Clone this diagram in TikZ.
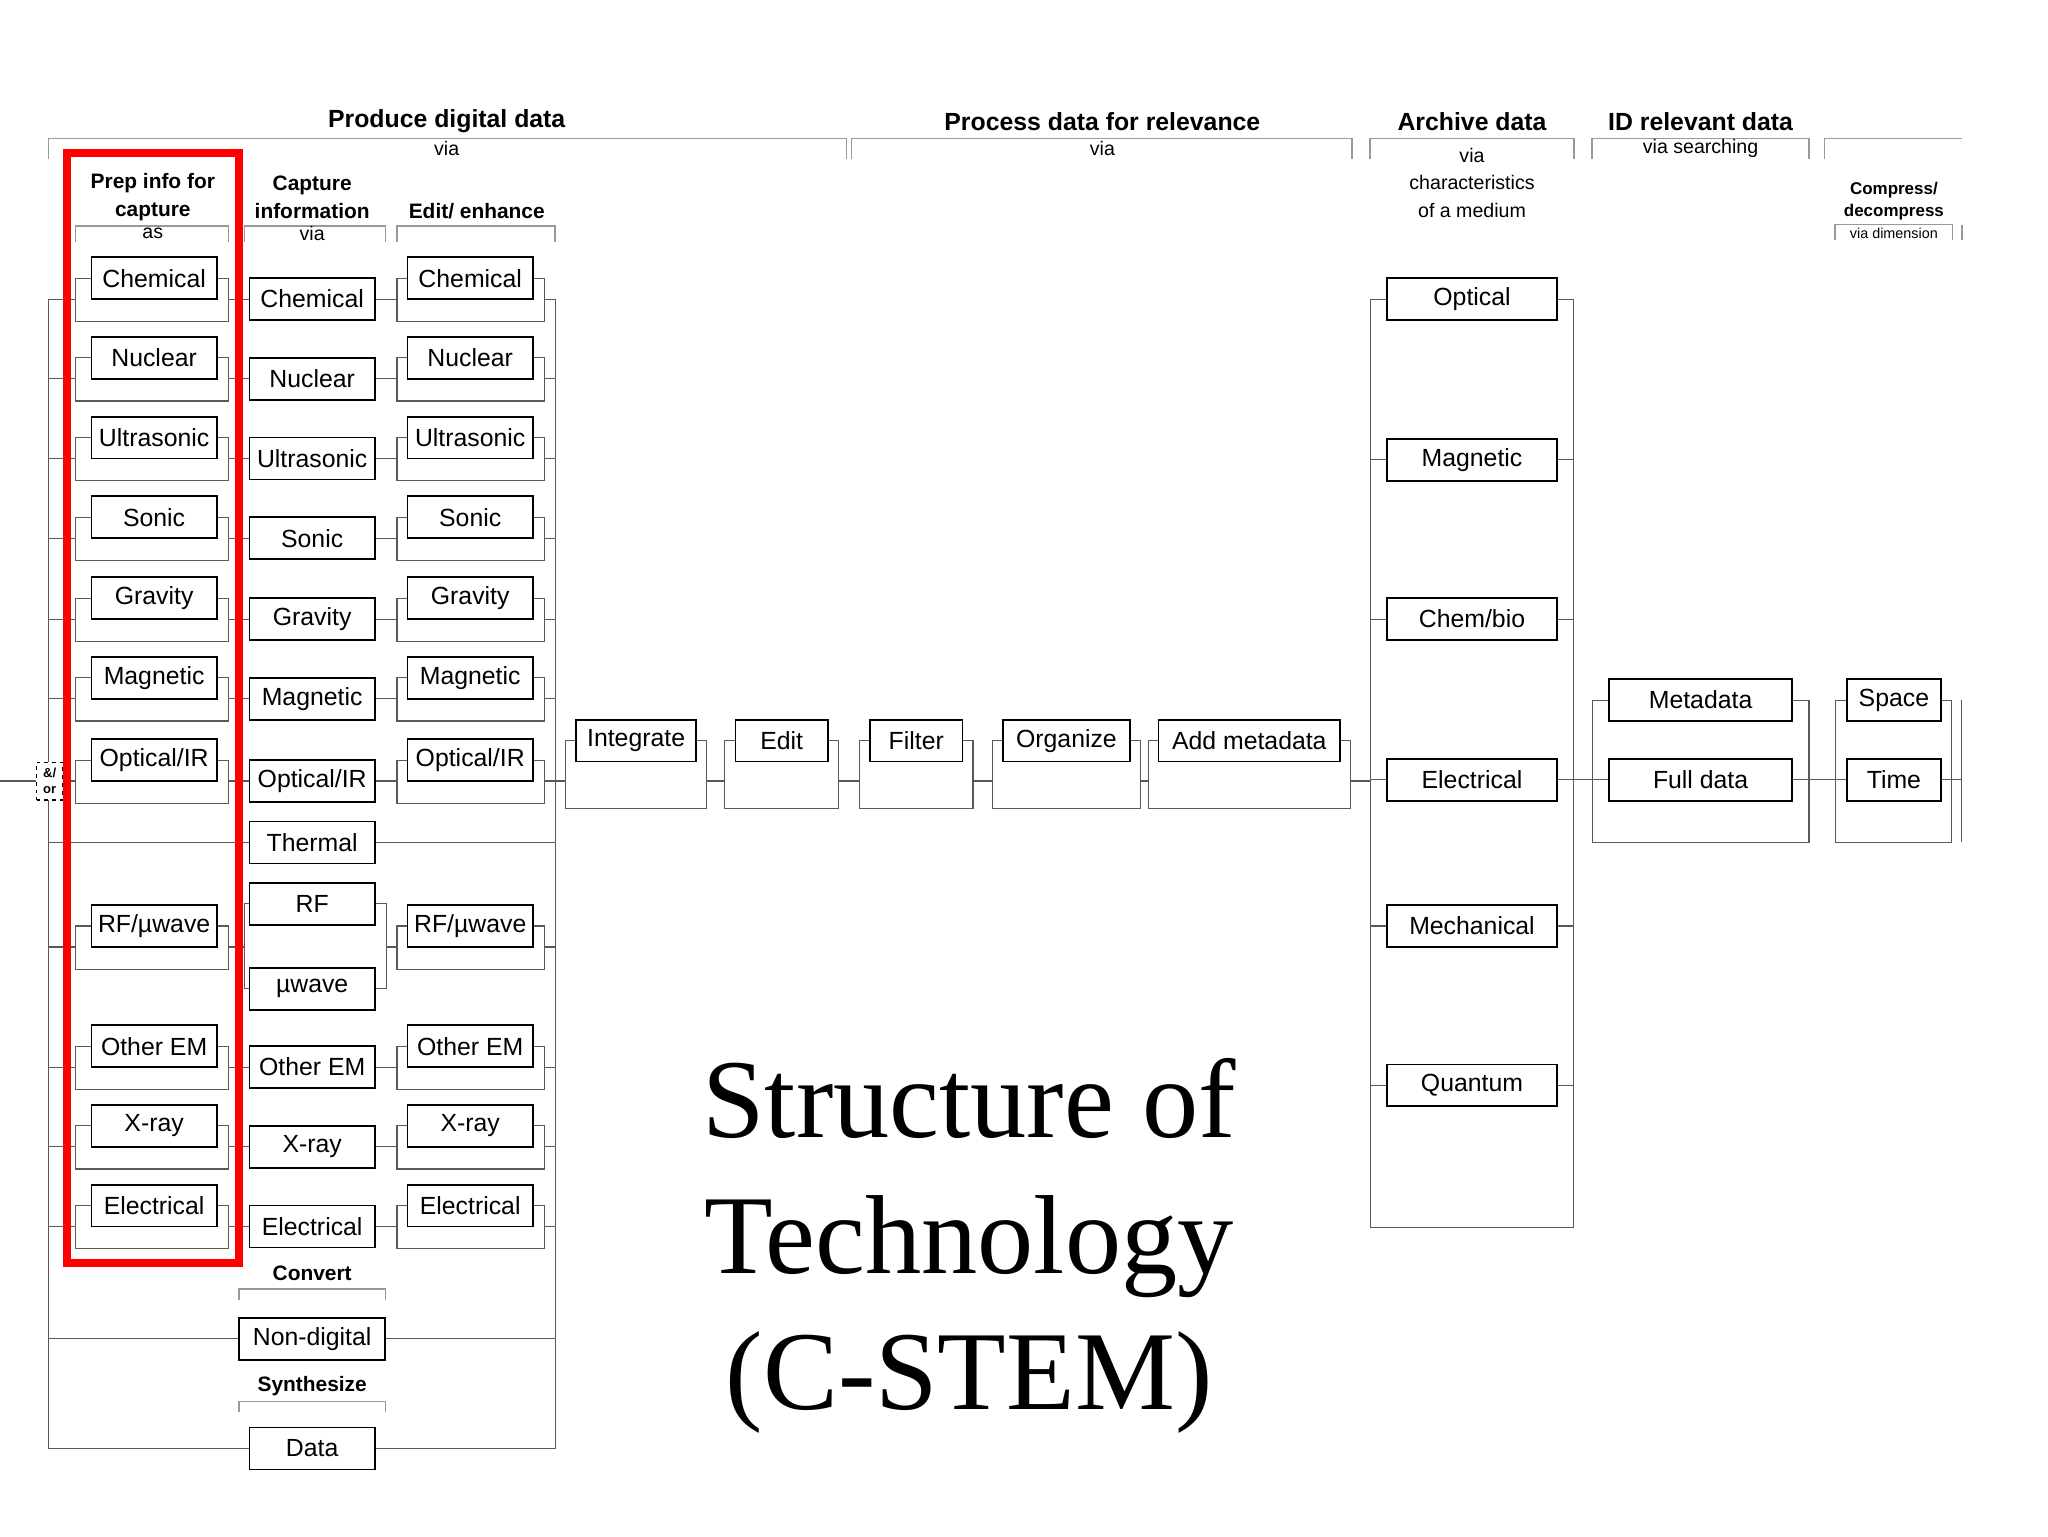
\documentclass[tikz,border=0pt]{standalone}
\usepackage{fontspec}
\setmainfont{Liberation Sans}
\newfontfamily\bigserif{Liberation Serif}
\begin{document}
\begin{tikzpicture}[x=1pt,y=-1pt,
  box/.style={draw,line width=1.3pt,minimum width=96pt,minimum height=32pt,inner sep=0pt,font=\fontsize{19}{19}\selectfont},
  br/.style={draw=black!65,line width=0.9pt},
  gbr/.style={draw=black!40,line width=1.1pt},
  head/.style={font=\bfseries\fontsize{19}{19}\selectfont},
  sub/.style={font=\bfseries\fontsize{16}{21}\selectfont,align=center},
  via/.style={font=\fontsize{15}{21}\selectfont,align=center}]
\path[use as bounding box,fill=white] (0,0) rectangle (1568,1176);
% top headings
\draw[gbr] (37,122)--(37,106)--(648,106)--(648,122);
\node[head] (h1) at (342,93) {Produce digital data};
\node[via] (v1) at (342,114) {via};
\draw[gbr] (652,122)--(652,106)--(1035,106)--(1035,122);
\node[head] (h2) at (844,93) {Process data for relevance};
\node[via] (v2) at (844,114) {via};
\draw[gbr] (1049,122)--(1049,106)--(1205,106)--(1205,122);
\node[head] (h3) at (1127,93) {Archive data};
\node[via] (v3) at (1127,140) {via\\characteristics\\of a medium};
\draw[gbr] (1219,122)--(1219,106)--(1385,106)--(1385,122);
\node[head] (h4) at (1302,93) {ID relevant data};
\node[via] (v4) at (1302,114) {via searching};
\draw[gbr] (1397,122)--(1397,106)--(1502,106);
\node[font=\bfseries\fontsize{13}{17}\selectfont,align=center] (h5) at (1450,154) {Compress/\\decompress};
\draw[gbr] (1405,184)--(1405,172)--(1495,172)--(1495,184);
\draw[gbr] (1502,172)--(1502,184);
\node[font=\fontsize{11}{11}\selectfont] (v5) at (1450,179) {via dimension};
% column headings
\node[sub] (t1) at (117,151) {Prep info for\\capture};
\draw[gbr] (58,185)--(58,173)--(175,173)--(175,185);
\node[via] (a1) at (117,179) {as};
\node[sub] (t2) at (239,151) {Capture\\information};
\draw[gbr] (187,185)--(187,173)--(295,173)--(295,185);
\node[via] (a2) at (239,179) {via};
\node[sub] (t3) at (365,162) {Edit/ enhance};
\draw[gbr] (304,185)--(304,173)--(425,173)--(425,185);
% rows
\foreach \t/\y/\n in {Chemical/213/1,Nuclear/274/2,Ultrasonic/335/3,Sonic/396/4,Gravity/458/5,Magnetic/519/6,{Optical/IR}/582/7,{Other EM}/801/9,X-ray/862/10,Electrical/923/11}{
  \node[box] (p\n) at (118,\y) {\t};
  \draw[br] (p\n.west)--(58,\y)--(58,\y+33)--(175,\y+33)--(175,\y)--(p\n.east);
  \node[box] (c\n) at (239,\y+16) {\t};
  \node[box] (e\n) at (360,\y) {\t};
  \draw[br] (e\n.west)--(304,\y)--(304,\y+33)--(417,\y+33)--(417,\y)--(e\n.east);
  \draw[br] (37,\y+16)--(58,\y+16);
  \draw[br] (175,\y+16)--(c\n.west);
  \draw[br] (c\n.east)--(304,\y+16);
  \draw[br] (417,\y+16)--(425,\y+16);
}
% RF row
\node[box] (p8) at (118,709) {RF/µwave};
\draw[br] (p8.west)--(58,709)--(58,742)--(175,742)--(175,709)--(p8.east);
\node[box] (e8) at (360,709) {RF/µwave};
\draw[br] (e8.west)--(304,709)--(304,742)--(417,742)--(417,709)--(e8.east);
\node[box] (rf) at (239,692) {RF};
\node[box] (mw) at (239,757) {µwave};
\draw[br] (37,725)--(58,725);
\draw[br] (175,725)--(187,725);
\draw[br] (rf.west)--(187,692)--(187,757)--(mw.west);
\draw[br] (rf.east)--(296,692)--(296,757)--(mw.east);
\draw[br] (296,725)--(304,725);
\draw[br] (417,725)--(425,725);
% thermal
\node[box] (th) at (239,645) {Thermal};
\draw[br] (37,645)--(th.west);
\draw[br] (th.east)--(425,645);
% convert / synthesize
\node[sub] (cv) at (239,975) {Convert};
\draw[gbr] (183,995)--(183,987)--(295,987)--(295,995);
\node[box,minimum width=112pt] (nd) at (239,1025) {Non-digital};
\draw[br] (37,1025)--(nd.west);
\draw[br] (nd.east)--(425,1025);
\node[sub] (sy) at (239,1061) {Synthesize};
\draw[gbr] (183,1081)--(183,1073)--(295,1073)--(295,1081);
\node[box] (da) at (239,1109) {Data};
\draw[br] (37,229)--(37,1109)--(da.west);
\draw[br] (425,229)--(425,1109)--(da.east);
% and/or
\coordinate (inl) at (0,598);
\node[draw,dashed,fill=white,line width=0.9pt,minimum width=20pt,minimum height=29pt,inner sep=0pt,align=center,font=\bfseries\fontsize{10}{12}\selectfont] (ao) at (38,598) {\&/\\or};
\draw[br] (inl)--(ao.west);
% red frame
\draw[red,line width=6pt] (51,117) rectangle (183,967);
% process
\draw[br] (425,598)--(433,598);
\foreach \t/\cx/\w/\n/\nx in {Integrate/487/92/q1/555,Edit/598.5/71/q2/658,Filter/701.5/71/q3/760,Organize/816.5/97/q4/879,Add metadata/956.5/139/q5/1049}{
  \node[box,minimum width=\w pt] (\n) at (\cx,567) {\t};
  \draw[br] (\n.west)--(\cx-\w/2-8,567)--(\cx-\w/2-8,619)--(\cx+\w/2+8,619)--(\cx+\w/2+8,567)--(\n.east);
  \draw[br] (\cx+\w/2+8,598)--(\nx,598);
}
% archive
\draw[br] (1049,229)--(1049,940)--(1205,940)--(1205,229);
\foreach \t/\y/\n in {Optical/229/m1,Magnetic/352/m2,{Chem/bio}/474/m3,Electrical/597/m4,Mechanical/709/m5,Quantum/831/m6}{
  \node[box,minimum width=130pt] (\n) at (1127,\y) {\t};
  \draw[br] (1049,\y)--(\n.west);
  \draw[br] (\n.east)--(1205,\y);
}
\draw[br] (1205,597)--(1219,597);
% ID
\node[box,minimum width=140pt] (md) at (1302,536) {Metadata};
\node[box,minimum width=140pt] (fd) at (1302,597) {Full data};
\draw[br] (md.west)--(1219,536)--(1219,645)--(1385,645)--(1385,536)--(md.east);
\draw[br] (1219,597)--(fd.west);
\draw[br] (fd.east)--(1405,597);
% compress
\node[box,minimum width=72pt] (sp) at (1450,536) {Space};
\node[box,minimum width=72pt] (tm) at (1450,597) {Time};
\draw[br] (sp.west)--(1405,536)--(1405,645)--(1494,645)--(1494,536)--(sp.east);
\draw[br] (1405,597)--(tm.west);
\draw[br] (tm.east)--(1502,597);
\draw[br] (1502,536)--(1502,645);
% title
\node[font=\bigserif\fontsize{86}{104}\selectfont,align=center] (ttl) at (742,954) {Structure of\\Technology\\(C-STEM)};
\end{tikzpicture}
\end{document}
